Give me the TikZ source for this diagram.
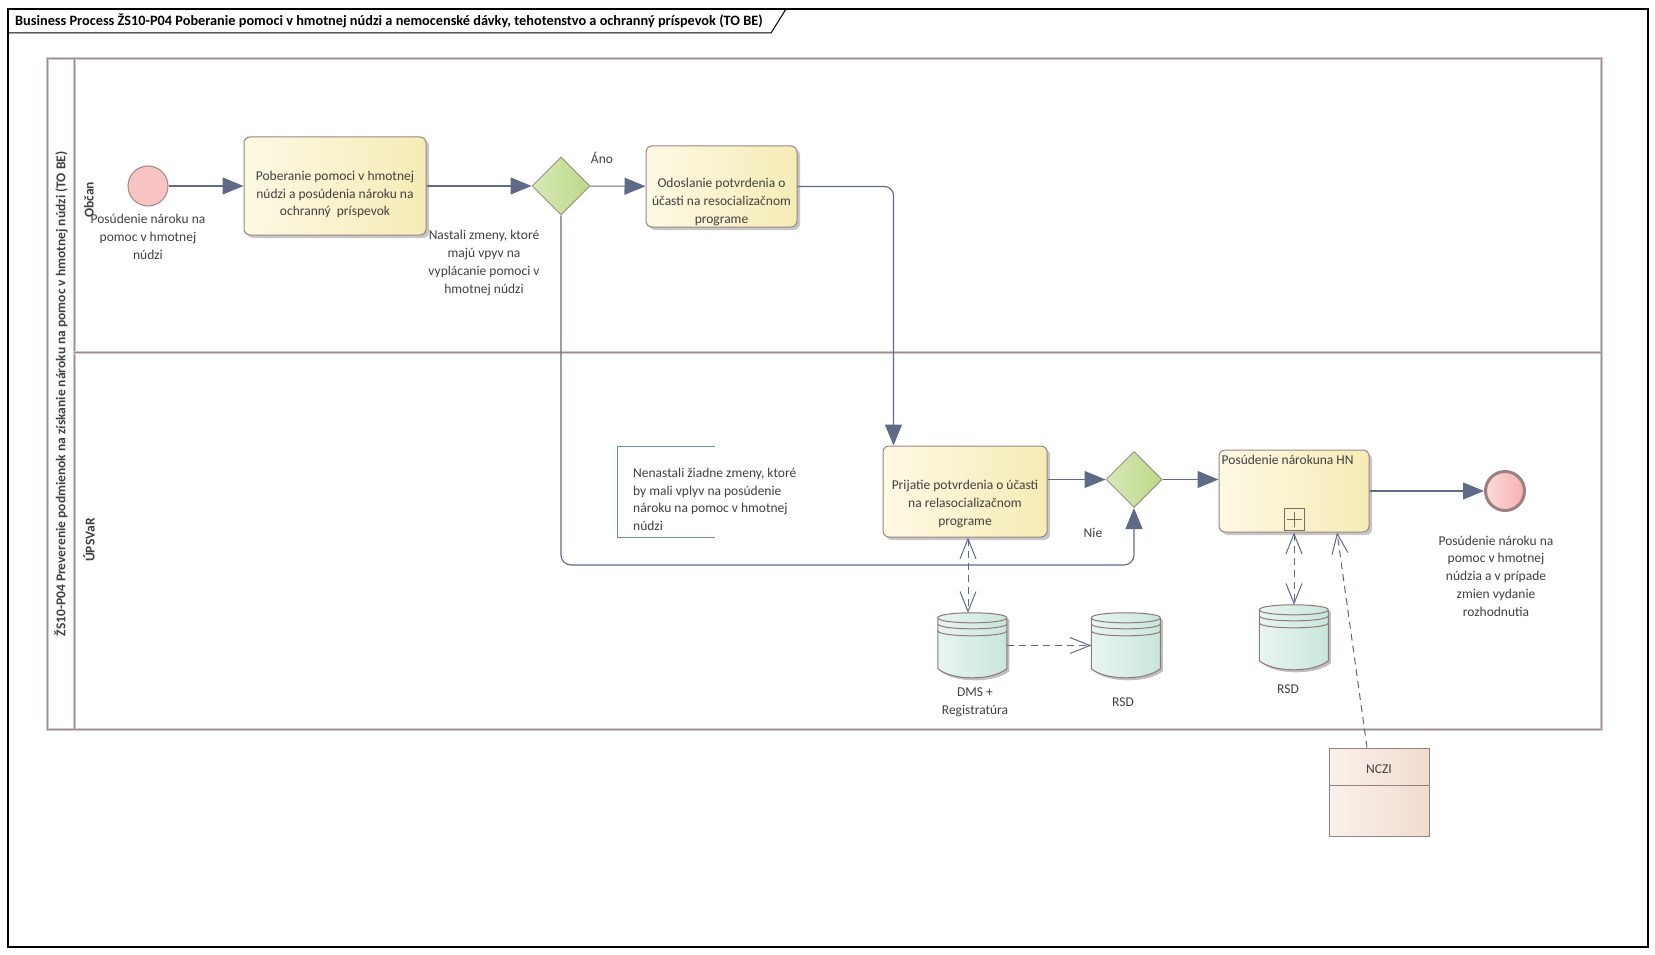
\documentclass[tikz,border=0pt]{standalone}
\usepackage{fontspec}
\setmainfont{Carlito}
\usetikzlibrary{arrows.meta,shapes.geometric,calc,shadows}
\definecolor{flowc}{HTML}{5E6A86}
\definecolor{txt}{HTML}{404040}
\definecolor{taskl}{HTML}{FDF9E4}
\definecolor{taskr}{HTML}{F5ECB5}
\definecolor{taskb}{HTML}{9C8484}
\definecolor{gwl}{HTML}{D7E9B8}
\definecolor{gwr}{HTML}{BCD987}
\definecolor{gwb}{HTML}{A09284}
\definecolor{evf}{HTML}{F8C3C3}
\definecolor{evb}{HTML}{A08686}
\definecolor{endl}{HTML}{FBDADA}
\definecolor{endr}{HTML}{F6B0B0}
\definecolor{endb}{HTML}{9A8080}
\definecolor{dsl}{HTML}{E8F5F0}
\definecolor{dsr}{HTML}{C9E6DB}
\definecolor{dsb}{HTML}{8E7878}
\definecolor{ncl}{HTML}{FAF1EC}
\definecolor{ncr}{HTML}{F1DCCF}
\definecolor{ncb}{HTML}{968080}
\definecolor{annc}{HTML}{6F8FA3}
\definecolor{poolc}{HTML}{9E8A8A}
\definecolor{poolg}{HTML}{CFCBCB}
\newcommand\tasktext[2]{\raisebox{-#1}[\height][\depth]{\begin{tabular}{@{}c@{}}#2\end{tabular}}}
\newcommand\dstoreshape[1]{%
  \begin{scope}[shift={(#1.north west)}]
    \path[draw=dsb, line width=1pt, left color=dsl, right color=dsr,
      drop shadow={shadow xshift=2.5pt, shadow yshift=-2.5pt, opacity=0.25, fill=black}]
      (0,5) -- (0,56) .. controls (8,62) and (20,65) .. (34.5,65)
      .. controls (49,65) and (61,62) .. (69,56) -- (69,5)
      .. controls (69,2) and (54,0) .. (34.5,0) .. controls (15,0) and (0,2) .. (0,5) -- cycle;
    \draw[dsb, line width=1pt] (0,5) .. controls (0,8) and (15,10) .. (34.5,10) .. controls (54,10) and (69,8) .. (69,5);
    \draw[dsb, line width=1pt] (0,11) .. controls (0,14) and (15,16) .. (34.5,16) .. controls (54,16) and (69,14) .. (69,11);
    \draw[dsb, line width=1pt] (0,18) .. controls (0,21) and (15,23) .. (34.5,23) .. controls (54,23) and (69,21) .. (69,18);
  \end{scope}}
\tikzset{
  every node/.style={text=txt},
  lbl/.style={align=center, inner sep=0pt},
  poolline/.style={draw=poolc, line width=1pt, preaction={draw=poolg, line width=3pt}},
  taskbox/.style={rectangle, rounded corners=6pt, draw=taskb, line width=1pt,
    left color=taskl, right color=taskr, inner sep=0pt,
    drop shadow={shadow xshift=3pt, shadow yshift=-3pt, opacity=0.22, fill=black}},
  gwbox/.style={diamond, shape aspect=1, draw=gwb, line width=1pt, left color=gwl, right color=gwr, inner sep=0pt},
  startev/.style={circle, draw=evb, line width=1pt, fill=evf, minimum size=40pt, inner sep=0pt},
  endev/.style={circle, draw=endb, line width=3pt, left color=endl, right color=endr, minimum size=39pt, inner sep=0pt},
  dsnode/.style={rectangle, minimum width=69pt, minimum height=65pt, inner sep=0pt},
  flow/.style={draw=flowc, line width=1.1pt, -{Triangle[length=21pt,width=17pt]}},
  assoc/.style={draw=flowc, line width=1pt, dash pattern=on 7pt off 5pt},
  barb/.tip={Straight Barb[length=20pt,width=16pt,line width=1pt]},
}
\begin{document}
\begin{tikzpicture}[x=1pt,y=-1pt, font=\fontsize{13.5}{17.7}\selectfont]
\useasboundingbox (0,0) rectangle (1655,955);
\fill[white] (0,0) rectangle (1655,955);
% frame
\draw[black, line width=1.2pt] (8,9) rectangle (1648,947);
\draw[black, line width=1pt] (8,33) -- (771,33) -- (786,9);
\node[anchor=west, inner sep=0pt, text=black, font=\bfseries\fontsize{14.3}{16}\selectfont] (title) at (15,21)
  {Business Process ŽS10-P04 Poberanie pomoci v hmotnej núdzi a nemocenské dávky, tehotenstvo a ochranný príspevok (TO BE)};
% pool
\draw[poolline] (47,59) rectangle (1601,729);
\draw[poolline] (74,59) -- (74,729);
\draw[poolline] (74,352) -- (1601,352);
\node[rotate=90, inner sep=0pt, font=\bfseries\fontsize{13.5}{15}\selectfont] (poollbl) at (61,394)
  {ŽS10-P04 Preverenie podmienok na získanie nároku na pomoc v hmotnej núdzi (TO BE)};
\node[rotate=90, inner sep=0pt, font=\bfseries\fontsize{13.5}{15}\selectfont] (lane1) at (89,200) {Občan};
\node[rotate=90, inner sep=0pt, font=\bfseries\fontsize{13.5}{15}\selectfont] (lane2) at (89,540) {ÚPSVaR};
% events
\node[startev] (start) at (148,186) {};
\node[lbl] (startlbl) at (148,237) {Posúdenie nároku na\\pomoc v hmotnej\\núdzi};
\node[endev] (end) at (1505,491) {};
\node[lbl] (endlbl) at (1496,576) {Posúdenie nároku na\\pomoc v hmotnej\\núdzia a v prípade\\zmien vydanie\\rozhodnutia};
% tasks
\node[taskbox, minimum width=182pt, minimum height=98pt] (task1) at (335,186)
  {\tasktext{8.5pt}{Poberanie pomoci v hmotnej\\núdzi a posúdenia nároku na\\ochranný\ \ príspevok}};
\node[taskbox, minimum width=151pt, minimum height=81pt] (task2) at (721.5,186.5)
  {\tasktext{15.5pt}{Odoslanie potvrdenia o\\účasti na resocializačnom\\programe}};
\node[taskbox, minimum width=164pt, minimum height=91pt] (task3) at (965,491.5)
  {\tasktext{12.5pt}{Prijatie potvrdenia o účasti\\na relasocializačnom\\programe}};
\node[taskbox, minimum width=150pt, minimum height=82pt] (task4) at (1294,491) {};
\node[anchor=north west, inner sep=0pt] (task4lbl) at ([xshift=3pt,yshift=-5pt]task4.north west) {Posúdenie nárokuna HN};
\node[rectangle, draw=taskb!80!black, line width=1pt, minimum width=20pt, minimum height=22pt, inner sep=0pt] (task4mk) at (1294,519) {};
\draw[taskb!80!black, line width=0.9pt] ([yshift=-4pt]task4mk.north) -- ([yshift=4pt]task4mk.south);
\draw[taskb!80!black, line width=0.9pt] ([xshift=3pt]task4mk.west) -- ([xshift=-3pt]task4mk.east);
% gateways
\node[gwbox, minimum width=58pt, minimum height=58pt] (gw1) at (561,186) {};
\node[gwbox, minimum width=56pt, minimum height=56pt] (gw2) at (1134,479.5) {};
\node[lbl] (gw1lbl) at (484,263) {Nastali zmeny, ktoré\\majú vpyv na\\vyplácanie pomoci v\\hmotnej núdzi};
\node[lbl] (ano) at (602,158) {Áno};
\node[lbl] (nie) at (1093,533) {Nie};
% annotation
\node[anchor=west, align=left, inner sep=0pt] (ann) at (633,499.5)
  {Nenastali žiadne zmeny, ktoré\\by mali vplyv na posúdenie\\nároku na pomoc v hmotnej\\núdzi};
\draw[annc, line width=1pt] (715,446) -- (617,446) -- (617,537) -- (715,537);
% data stores
\node[dsnode] (ds1) at (972.5,645.5) {};
\node[dsnode] (ds2) at (1126,645.5) {};
\node[dsnode] (ds3) at (1294,637.5) {};
\dstoreshape{ds1}
\dstoreshape{ds2}
\dstoreshape{ds3}
\node[lbl] (ds1lbl) at (975,702) {DMS +\\Registratúra};
\node[lbl] (ds2lbl) at (1123,702) {RSD};
\node[lbl] (ds3lbl) at (1288,689) {RSD};
% NCZI
\node[rectangle, draw=ncb, line width=1pt, left color=ncl, right color=ncr, minimum width=100pt, minimum height=88pt, inner sep=0pt] (nczi) at (1379,792) {};
\draw[ncb, line width=1pt] ([yshift=-38pt]nczi.north west) -- ([yshift=-38pt]nczi.north east);
\node[lbl] (nczilbl) at (1379,769) {NCZI};
% sequence flows
\coordinate (nb) at (1134,565);
\draw[flow] (start) -- (task1);
\draw[flow] (task1) -- (gw1);
\draw[flow] (gw1) -- (task2);
\draw[flow, rounded corners=9pt] (task2.east) -| ([xshift=11pt]task3.north west);
\draw[flow, rounded corners=10pt] (gw1.south) |- (nb) -- (gw2.south);
\draw[flow] (task3.east |- gw2) -- (gw2);
\draw[flow] (gw2) -- (gw2 -| task4.west);
\draw[flow] (task4) -- (end);
% associations
\draw[assoc, barb-barb] ([xshift=3pt]task3.south) -- ([xshift=3pt]task3.south |- ds1.north);
\draw[assoc, -barb] (ds1.east) -- (ds2.west);
\draw[assoc, barb-barb] (task4.south) -- (ds3.north);
\draw[assoc, -barb] ([xshift=-12pt]nczi.north) -- ([xshift=43pt]task4.south);
\end{tikzpicture}
\end{document}
